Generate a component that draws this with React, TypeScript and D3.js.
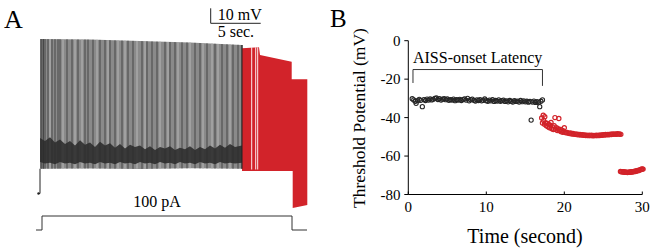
import React from 'react';
import * as d3 from 'd3';

// ---------------- Panel A data (time in s, voltage in mV, current in pA) ----------------
const blackEnvelope = [
  { t: 0, peak: 30, trough: -56.5 },
  { t: 5, peak: 29.6, trough: -56.3 },
  { t: 10, peak: 28.6, trough: -56.6 },
  { t: 15, peak: 27.6, trough: -56.2 },
  { t: 20.2, peak: 26, trough: -56.5 },
];
const darkSpikeTimes = [0.1, 0.2, 0.35, 0.5, 0.8, 1.2, 1.5, 1.8, 2.0, 2.7, 3.2, 3.8, 4.5, 4.8, 5.3, 6.0, 6.5, 7.0, 7.5, 8.2, 8.8, 9.3, 10.2, 10.7, 11.2, 11.7, 12.5, 13.0, 13.5, 14.2, 14.7, 15.5, 16.0, 16.7, 17.5, 18.2, 18.7, 19.3, 19.8, 20.2];
const lightSpikeTimes = [1.0, 2.3, 3.5, 4.2, 5.7, 6.8, 7.8, 8.5, 9.7, 10.5, 12.0, 12.8, 13.8, 15.0, 16.3, 17.2, 17.8, 19.0];
const darkBand = [
  { t: 0, top: -36, bottom: -52 }, { t: 0.5, top: -38, bottom: -53 }, { t: 1, top: -35.5, bottom: -52.5 },
  { t: 1.5, top: -39, bottom: -53.5 }, { t: 2, top: -37, bottom: -52 }, { t: 2.5, top: -40, bottom: -53 },
  { t: 3, top: -38, bottom: -52.5 }, { t: 3.5, top: -41, bottom: -53.5 }, { t: 4, top: -37.5, bottom: -52 },
  { t: 4.5, top: -40.5, bottom: -53 }, { t: 5, top: -39, bottom: -52.5 }, { t: 5.5, top: -42, bottom: -53.5 },
  { t: 6, top: -38.5, bottom: -52 }, { t: 6.5, top: -41, bottom: -53 }, { t: 7, top: -39.5, bottom: -52.5 },
  { t: 7.5, top: -42.5, bottom: -53.5 }, { t: 8, top: -40, bottom: -52 }, { t: 8.5, top: -43, bottom: -53 },
  { t: 9, top: -40.5, bottom: -52.5 }, { t: 9.5, top: -42, bottom: -53.5 }, { t: 10, top: -41, bottom: -52 },
  { t: 10.5, top: -43.5, bottom: -53 }, { t: 11, top: -41.5, bottom: -52.5 }, { t: 11.5, top: -44, bottom: -53.5 },
  { t: 12, top: -42, bottom: -52 }, { t: 12.5, top: -43, bottom: -53 }, { t: 13, top: -41.5, bottom: -52.5 },
  { t: 13.5, top: -44, bottom: -53.5 }, { t: 14, top: -42.5, bottom: -52 }, { t: 14.5, top: -43.5, bottom: -53 },
  { t: 15, top: -41.5, bottom: -52.5 }, { t: 15.5, top: -44, bottom: -53.5 }, { t: 16, top: -42, bottom: -52 },
  { t: 16.5, top: -43.5, bottom: -53 }, { t: 17, top: -41, bottom: -52.5 }, { t: 17.5, top: -43, bottom: -53.5 },
  { t: 18, top: -40.5, bottom: -52 }, { t: 18.5, top: -42.5, bottom: -53 }, { t: 19, top: -40, bottom: -52.5 },
  { t: 19.5, top: -42, bottom: -53 }, { t: 20.2, top: -41, bottom: -52.5 },
];
const redTop = [
  { t: 20.2, v: 23.8 }, { t: 21.9, v: 24.5 }, { t: 22.0, v: 19.3 }, { t: 25.17, v: 14.9 },
  { t: 25.17, v: 3.1 }, { t: 26.73, v: 3.1 },
];
const redBottom = [
  { t: 20.2, v: -58 }, { t: 25.27, v: -58 }, { t: 25.27, v: -82.7 }, { t: 26.73, v: -80.7 },
];
const redGapTimes = [21.17, 21.57, 21.77];
const preTrace = [{ t: -0.15, v: -73 }, { t: 0, v: -73 }, { t: 0, v: -56.5 }];
const stimulus = [
  { t: -0.4, i: 0 }, { t: 0.2, i: 0 }, { t: 0.2, i: 100 }, { t: 25.2, i: 100 },
  { t: 25.2, i: 0 }, { t: 26.7, i: 0 },
];
const stimLabel = '100 pA';
const scaleBarMv = 10;
const scaleBarSec = 5;

// ---------------- Panel B data ----------------
const xTicksB = [0, 10, 20, 30];
const yTicksB = [0, -20, -40, -60, -80];
const latencyStart = 0.6;
const latencyEnd = 17.2;
const blackPoints: [number, number][] = [
  [0.5, -30.2], [0.7, -30.8], [0.9, -31.5], [1.0, -32.6], [1.2, -31.2], [1.4, -30.5], [1.6, -31.0], [1.8, -34.3],
  [2.0, -30.6], [2.2, -31.1], [2.4, -30.4], [2.6, -30.9], [2.8, -30.3], [3.0, -30.8], [3.2, -30.5], [3.4, -30.0],
  [3.6, -29.8], [3.8, -30.6], [4.0, -30.2], [4.2, -30.9], [4.4, -30.4], [4.6, -30.1], [4.8, -30.7], [5.0, -30.3],
  [5.2, -31.0], [5.4, -30.6], [5.6, -30.9], [5.8, -30.4], [6.0, -31.2], [6.2, -30.7], [6.4, -30.9], [6.6, -30.5],
  [6.8, -31.1], [7.0, -30.6], [7.2, -30.3], [7.4, -30.9], [7.6, -30.0], [7.8, -31.3], [8.0, -30.7], [8.2, -30.4],
  [8.4, -31.0], [8.6, -31.4], [8.8, -30.8], [9.0, -31.1], [9.2, -30.6], [9.4, -31.3], [9.6, -31.0], [9.8, -30.3],
  [10.0, -31.2], [10.2, -31.5], [10.4, -30.9], [10.6, -31.3], [10.8, -30.7], [11.0, -31.6], [11.2, -31.1], [11.4, -31.4],
  [11.6, -30.8], [11.8, -31.5], [12.0, -31.2], [12.2, -30.9], [12.4, -31.6], [12.6, -31.3], [12.8, -31.8], [13.0, -31.1],
  [13.2, -31.5], [13.4, -31.9], [13.6, -31.2], [13.8, -31.6], [14.0, -31.4], [14.2, -31.9], [14.4, -31.1], [14.6, -31.7],
  [14.8, -31.3], [15.0, -31.8], [15.2, -31.5], [15.4, -32.0], [15.6, -31.6], [15.75, -41.3], [15.9, -31.9], [16.1, -31.4],
  [16.3, -32.1], [16.5, -31.7], [16.7, -32.2], [16.85, -34.3], [17.0, -31.5], [17.2, -30.8],
];
const redPoints: [number, number][] = [
  [17.1, -40.2], [17.2, -42.8], [17.3, -38.8], [17.35, -41.5], [17.45, -43.5], [17.5, -39.5], [17.6, -42.7], [17.7, -44.2],
  [17.8, -43.0], [17.9, -44.8], [18.0, -43.6], [18.1, -45.3], [18.2, -44.0], [18.3, -42.5], [18.4, -45.8], [18.5, -44.9],
  [18.6, -46.2], [18.7, -44.2], [18.8, -40.0], [18.9, -46.0], [19.0, -45.2], [19.1, -46.7], [19.2, -45.8], [19.3, -40.5],
  [19.4, -46.9], [19.5, -46.2], [19.6, -47.3], [19.7, -46.5], [19.8, -47.6], [19.9, -46.9], [20.0, -45.3], [20.1, -47.6],
  [20.2, -47.9], [20.35, -47.7], [20.5, -48.1], [20.65, -48.3], [20.8, -48.0], [20.95, -48.5], [21.1, -48.3], [21.25, -48.7],
  [21.4, -48.5], [21.55, -48.8], [21.7, -48.6], [21.85, -49.0], [22.0, -48.8], [22.15, -49.1], [22.3, -48.9], [22.45, -49.2],
  [22.6, -49.0], [22.75, -49.3], [22.9, -49.1], [23.05, -49.4], [23.2, -49.2], [23.35, -49.4], [23.5, -49.2], [23.65, -49.5],
  [23.8, -49.3], [23.95, -49.4], [24.1, -49.2], [24.25, -49.4], [24.4, -49.1], [24.55, -49.3], [24.7, -49.0], [24.85, -49.2],
  [25.0, -48.9], [25.15, -49.1], [25.3, -48.8], [25.45, -49.0], [25.6, -48.7], [25.75, -48.9], [25.9, -48.6], [26.05, -48.8],
  [26.2, -48.5], [26.35, -48.7], [26.5, -48.5], [26.65, -48.7], [26.8, -48.4], [26.95, -48.6], [27.1, -48.5], [27.25, -48.7],
  [27.2, -68.0], [27.3, -68.2], [27.4, -68.1], [27.5, -68.3], [27.6, -68.2], [27.7, -68.4], [27.8, -68.3], [27.9, -68.5],
  [28.0, -68.4], [28.1, -68.6], [28.2, -68.4], [28.3, -68.5], [28.4, -68.3], [28.5, -68.4], [28.6, -68.2], [28.7, -68.3],
  [28.8, -68.1], [28.9, -68.2], [29.0, -67.9], [29.1, -68.0], [29.2, -67.7], [29.3, -67.8], [29.4, -67.5], [29.5, -67.6],
  [29.6, -67.3], [29.7, -67.2], [29.8, -67.0], [29.9, -66.9], [30.0, -66.7], [30.1, -66.8],
];

const FONT = '"Liberation Serif", "Times New Roman", serif';
const RED = '#d2232a';

export default function App() {
  // Panel A scales
  const xA = d3.scaleLinear().domain([0, 30]).range([40, 340]);
  const yA = d3.scaleLinear().domain([-90, 40]).range([219, 24]);
  const yStim = d3.scaleLinear().domain([0, 100]).range([230, 216]);
  const peakAt = d3.scaleLinear().domain(blackEnvelope.map(d => d.t)).range(blackEnvelope.map(d => d.peak));
  const troughAt = d3.scaleLinear().domain(blackEnvelope.map(d => d.t)).range(blackEnvelope.map(d => d.trough));

  const envArea = d3.area<any>().x(d => xA(d.t)).y0(d => yA(d.trough)).y1(d => yA(d.peak))(blackEnvelope) || '';
  const bandArea = d3.area<any>().x(d => xA(d.t)).y0(d => yA(d.bottom)).y1(d => yA(d.top))(darkBand) || '';
  const redPoly = d3.line<any>().x(d => xA(d.t)).y(d => yA(d.v))([...redTop, ...redBottom.slice().reverse()]) + 'Z';
  const preLine = d3.line<any>().x(d => xA(d.t)).y(d => yA(d.v))(preTrace) || '';
  const stimLine = d3.line<any>().x(d => xA(d.t)).y(d => yStim(d.i))(stimulus) || '';

  // Panel B scales
  const xB = d3.scaleLinear().domain([0, 30]).range([408.3, 642.3]);
  const yB = d3.scaleLinear().domain([-80, 0]).range([194.5, 40.7]);

  const sbX = 210.7;
  const sbY = 23.3;
  const sbW = xA(scaleBarSec) - xA(0);
  const sbH = yA(0) - yA(scaleBarMv);

  return (
    <svg width={650} height={252} style={{ position: 'absolute', left: 0, top: 0, background: '#fff' }}
      fontFamily={FONT}>
      {/* ---------- Panel A ---------- */}
      <text x={4} y={28} fontSize={26}>A</text>
      <path d={preLine} fill="none" stroke="#222" strokeWidth={1} />
      <circle cx={xA(preTrace[0].t)} cy={yA(preTrace[0].v)} r={1.2} fill="#222" />
      <path d={envArea} fill="#8a8a8a" />
      {lightSpikeTimes.map((t, i) => (
        <line key={'l' + i} x1={xA(t)} x2={xA(t)} y1={yA(troughAt(t))} y2={yA(peakAt(t))}
          stroke="#b0b0b0" strokeWidth={1.2} />
      ))}
      {darkSpikeTimes.map((t, i) => (
        <line key={'d' + i} x1={xA(t)} x2={xA(t)} y1={yA(troughAt(t))} y2={yA(peakAt(t))}
          stroke="#474747" strokeWidth={1} />
      ))}
      <path d={bandArea} fill="#2b2b2b" opacity={0.88} />
      <path d={redPoly} fill={RED} />
      {redGapTimes.map((t, i) => (
        <line key={'g' + i} x1={xA(t)} x2={xA(t)} y1={yA(redTop[0].v) - 1} y2={yA(-57)}
          stroke="#fff" strokeWidth={1} opacity={0.9} />
      ))}
      <line x1={xA(20.2)} x2={xA(20.2)} y1={yA(26)} y2={yA(-56.5)} stroke="#222" strokeWidth={1} />
      {/* scale bar */}
      <path d={`M${sbX},${sbY - sbH}V${sbY}H${sbX + sbW}`} fill="none" stroke="#222" strokeWidth={1} />
      <text x={sbX + 7} y={20} fontSize={16}>10 mV</text>
      <text x={sbX + 7} y={37} fontSize={16}>5 sec.</text>
      {/* stimulus */}
      <path d={stimLine} fill="none" stroke="#333" strokeWidth={1} />
      <text x={(xA(0.2) + xA(25.2)) / 2 - 10} y={207} fontSize={16} textAnchor="middle">{stimLabel}</text>

      {/* ---------- Panel B ---------- */}
      <text x={330} y={27} fontSize={25}>B</text>
      {/* axes */}
      <line x1={xB(0)} x2={xB(0)} y1={yB(0)} y2={yB(-80)} stroke="#000" strokeWidth={1} />
      <line x1={xB(0)} x2={xB(30)} y1={yB(-80)} y2={yB(-80)} stroke="#000" strokeWidth={1} />
      {yTicksB.map(v => (
        <g key={'yt' + v}>
          <line x1={xB(0) - 4} x2={xB(0)} y1={yB(v)} y2={yB(v)} stroke="#000" strokeWidth={1} />
          <text x={400.5} y={yB(v) + 5} fontSize={15} textAnchor="end">{v}</text>
        </g>
      ))}
      {xTicksB.map(v => (
        <g key={'xt' + v}>
          <line x1={xB(v)} x2={xB(v)} y1={yB(-80)} y2={yB(-80) - 3} stroke="#000" strokeWidth={1} />
          <text x={xB(v)} y={212} fontSize={15} textAnchor="middle">{v}</text>
        </g>
      ))}
      <text x={525} y={243} fontSize={20} textAnchor="middle">Time (second)</text>
      <text transform="translate(365,118) rotate(-90)" fontSize={17.5} textAnchor="middle">Threshold Potential (mV)</text>
      {/* latency bracket */}
      <path d={`M${xB(latencyStart)},${yB(-22)}V${yB(-15)}H${xB(latencyEnd)}V${yB(-23.5)}`}
        fill="none" stroke="#333" strokeWidth={1} />
      <text x={xB(latencyStart)} y={63} fontSize={16}>AISS-onset Latency</text>
      {/* scatter */}
      {blackPoints.map(([t, v], i) => (
        <circle key={'bp' + i} cx={xB(t)} cy={yB(v)} r={2.1} fill="none" stroke="#262626" strokeWidth={1.1} />
      ))}
      {redPoints.map(([t, v], i) => (
        <circle key={'rp' + i} cx={xB(t)} cy={yB(v)} r={2.1} fill="none" stroke={RED} strokeWidth={1.2} />
      ))}
    </svg>
  );
}
